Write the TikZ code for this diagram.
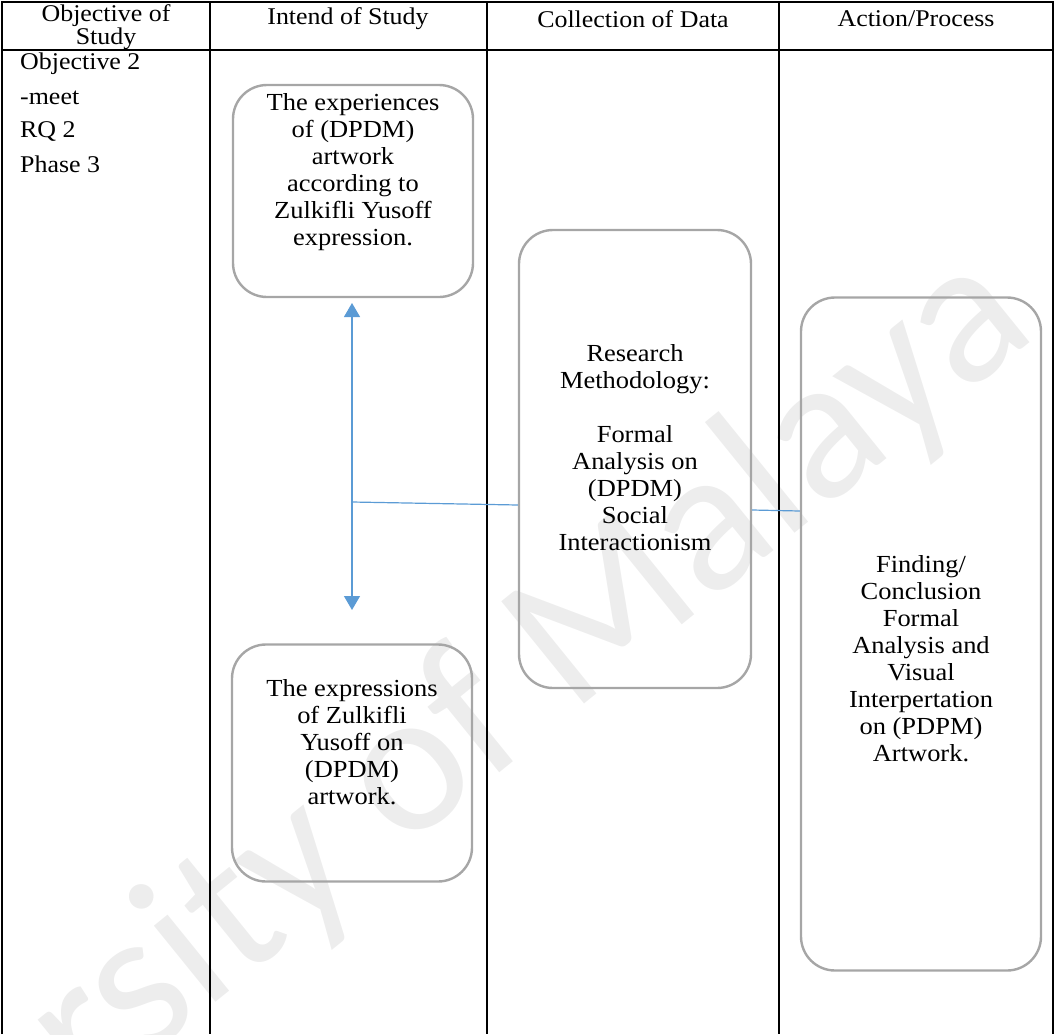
\documentclass[tikz,border=0pt]{standalone}
\usepackage{fontspec}
\setmainfont[FakeStretch=1.08]{Liberation Serif}
\newfontfamily\wmfont{Carlito}
\usetikzlibrary{arrows.meta}
\definecolor{flowblue}{HTML}{5B9BD5}
\definecolor{boxgray}{HTML}{A6A6A6}
\definecolor{wmgray}{HTML}{EDEDED}
\tikzset{
  rule/.style={line width=1.5pt, black},
  roundbox/.style={draw=boxgray, line width=2.4pt, rounded corners=34pt, inner sep=0pt},
  headtext/.style={align=center, font=\fontsize{24}{21.5}\selectfont, inner sep=0pt},
  sidetext/.style={anchor=west, font=\fontsize{24}{23}\selectfont, inner sep=0pt},
  boxtext/.style={align=center, font=\fontsize{24.5}{27}\selectfont, inner sep=0pt},
  flow/.style={draw=flowblue, line width=1.2pt},
  tip/.style={-{Triangle[width=16pt,length=14pt]}}
}
\begin{document}
\begin{tikzpicture}[x=1pt, y=-1pt]
\useasboundingbox (0,0) rectangle (1055,1034);

% watermark
\node[wmgray, rotate=39, anchor=base east, font=\wmfont\fontsize{205}{205}\selectfont, inner sep=0pt]
  (wm) at (1040,335) {University of Malaya};

% table rules
\draw[rule] (2,1034) -- (2,2) -- (1053,2) -- (1053,1034);
\draw[rule] (2,50) -- (1053,50);
\foreach \cx in {210,487,779} \draw[rule] (\cx,2) -- (\cx,1034);

% column headings
\node[headtext] (h1) at (106,27) {Objective of\\Study};
\node[headtext] (h2) at (348,19) {Intend of Study};
\node[headtext] (h3) at (633,19) {Collection of Data};
\node[headtext] (h4) at (916,19) {Action/Process};

% first column entries
\node[sidetext] (o1) at (20,64) {Objective 2};
\node[sidetext] (o2) at (20,98) {-meet};
\node[sidetext] (o3) at (20,131) {RQ 2};
\node[sidetext] (o4) at (20,164) {Phase 3};

% rounded boxes
\node[roundbox, minimum width=240pt, minimum height=212pt] (b1) at (353,191) {};
\node[roundbox, minimum width=240pt, minimum height=237pt] (b2) at (352,763) {};
\node[roundbox, minimum width=232pt, minimum height=458pt] (b3) at (635,459) {};
\node[roundbox, minimum width=240pt, minimum height=673pt] (b4) at (921,634) {};

% box texts
\node[boxtext] (t1) at (353,172) {The experiences\\of (DPDM)\\artwork\\according to\\Zulkifli Yusoff\\expression.};
\node[boxtext] (t2) at (352,742) {The expressions\\of Zulkifli\\Yusoff on\\(DPDM)\\artwork.};
\node[boxtext] (t3) at (635,448) {Research\\Methodology:\\[27pt]Formal\\Analysis on\\(DPDM)\\Social\\Interactionism};
\node[boxtext] (t4) at (921,659) {Finding/\\Conclusion\\Formal\\Analysis and\\Visual\\Interpertation\\on (PDPM)\\Artwork.};

% connectors
\coordinate (j) at (352,502);
\coordinate (up) at (352,303);
\coordinate (dn) at (352,610);
\draw[flow, tip] (j) -- (up);
\draw[flow, tip] (j) -- (dn);
\draw[flow] (j) -- (b3.west |- 0,505);
\draw[flow] (b3.east |- 0,510) -- (b4.west |- 0,511);
\end{tikzpicture}
\end{document}
